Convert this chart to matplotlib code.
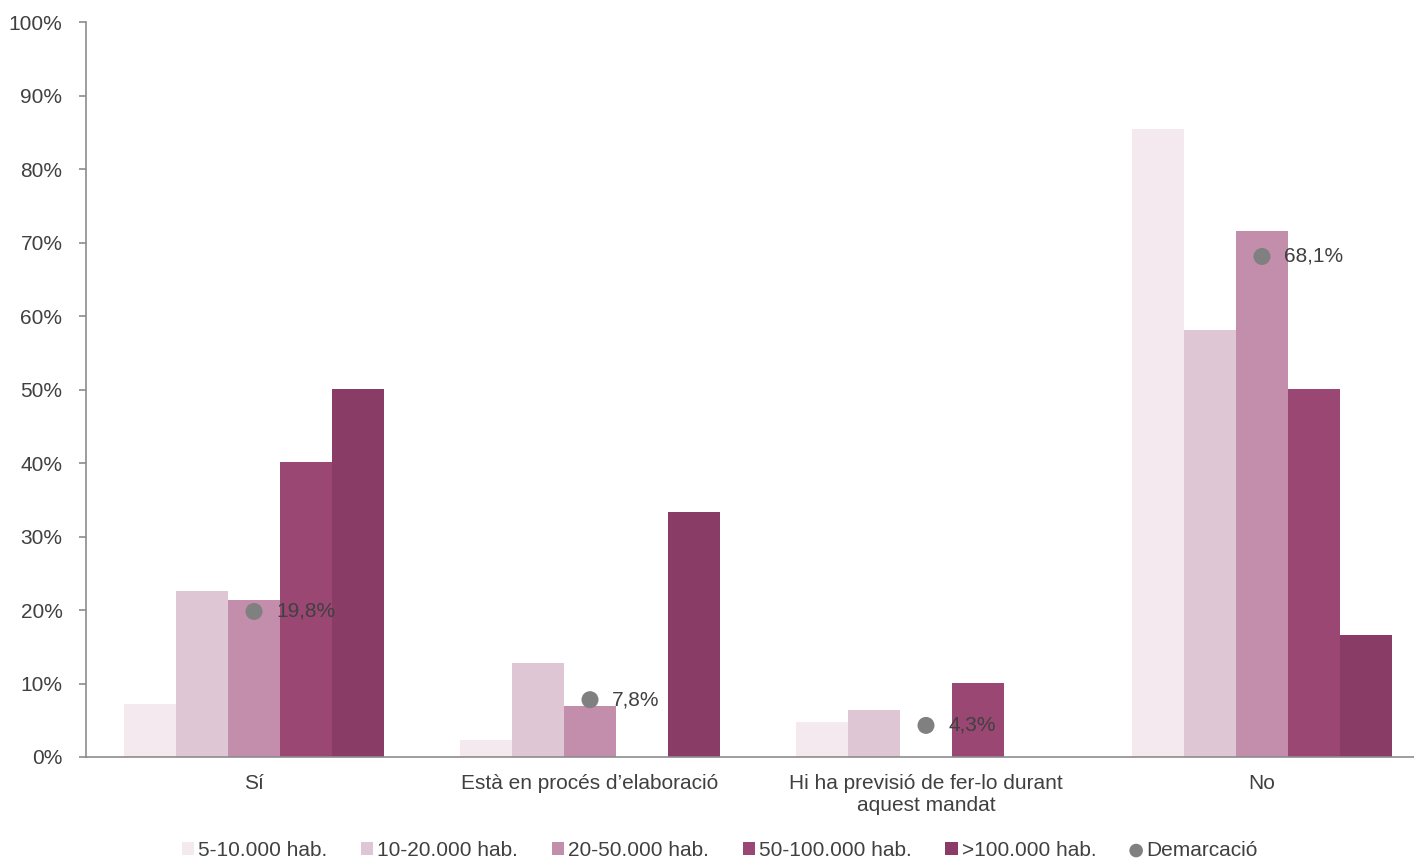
import matplotlib.pyplot as plt
import numpy as np

plt.rcParams['font.family'] = ['Liberation Sans', 'DejaVu Sans']

# Data
categories = ["Sí", "Està en procés d’elaboració",
              "Hi ha previsió de fer-lo durant\naquest mandat", "No"]
series_names = ["5-10.000 hab.", "10-20.000 hab.", "20-50.000 hab.",
                "50-100.000 hab.", ">100.000 hab."]
v_5_10 = [7.2, 2.3, 4.8, 85.4]
v_10_20 = [22.6, 12.8, 6.4, 58.1]
v_20_50 = [21.4, 6.9, 0.0, 71.6]
v_50_100 = [40.1, 0.0, 10.1, 50.1]
v_100 = [50.1, 33.3, 0.0, 16.6]
demarcacio = [19.8, 7.8, 4.3, 68.1]
demarcacio_labels = ["19,8%", "7,8%", "4,3%", "68,1%"]

colors = ["#F3E9EF", "#DFC6D5", "#C28EAB", "#9A4773", "#893D66"]
text_color = "#404040"
axis_color = "#8C8C8C"
fs = 15

fig = plt.figure(figsize=(14.14, 8.6), dpi=100)
ax = fig.add_axes([86 / 1414, 103 / 860, 1344 / 1414, 735 / 860])

x = np.arange(len(categories))
width = 0.155
series = [v_5_10, v_10_20, v_20_50, v_50_100, v_100]
handles = []
for i, (vals, name, c) in enumerate(zip(series, series_names, colors)):
    b = ax.bar(x + (i - 2) * width, vals, width, color=c, label=name, zorder=2)
    handles.append(b)

dots = ax.scatter(x, demarcacio, s=150, color="#808080", zorder=3,
                  label="Demarcació", edgecolors="none")
handles.append(dots)
for xi, yi, lab in zip(x, demarcacio, demarcacio_labels):
    ax.annotate(lab, (xi, yi), xytext=(16, 0), textcoords="offset points",
                va="center", ha="left", fontsize=fs, color=text_color, zorder=4)

ax.set_xlim(-0.5, 3.5)
ax.set_ylim(0, 100)
ax.set_yticks(range(0, 101, 10))
ax.set_yticklabels([f"{v}%" for v in range(0, 101, 10)])
ax.set_xticks(x)
ax.set_xticklabels(categories, linespacing=1.25)

for s in ["top", "right"]:
    ax.spines[s].set_visible(False)
ax.spines["left"].set_color(axis_color)
ax.spines["bottom"].set_color(axis_color)
ax.spines["left"].set_linewidth(1.2)
ax.spines["bottom"].set_linewidth(1.2)
ax.tick_params(axis="y", colors=axis_color, labelcolor=text_color,
               labelsize=fs, length=5, width=1.2, pad=12)
ax.tick_params(axis="x", length=0, labelcolor=text_color, labelsize=fs, pad=12)

fig.legend(handles=handles, loc="center", bbox_to_anchor=(0.509, 10 / 860),
           ncol=6, frameon=False, fontsize=fs, labelcolor=text_color,
           handlelength=0.6, handleheight=0.6, handletextpad=0.2,
           columnspacing=1.6, borderaxespad=0, markerscale=0.8)

fig.savefig("out.png", dpi=100)
plt.close(fig)
